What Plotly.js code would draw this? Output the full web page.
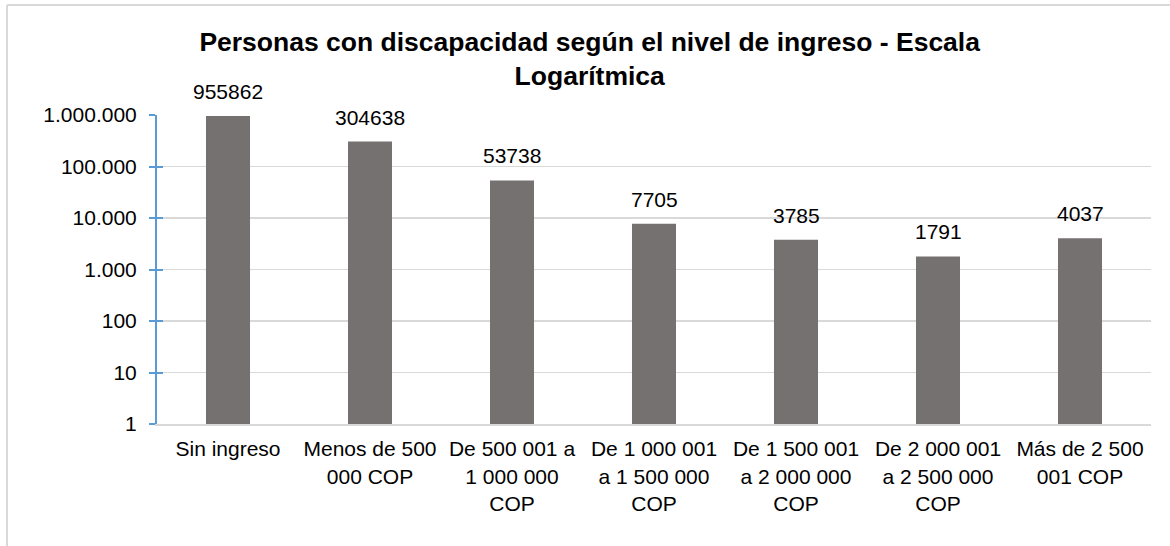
<!DOCTYPE html>
<html>
<head>
<meta charset="utf-8">
<script src="https://cdn.plot.ly/plotly-3.0.1.min.js"></script>
<style>
html,body{margin:0;padding:0;background:#fff;}
#chart{width:1170px;height:546px;}
</style>
</head>
<body>
<div id="chart"></div>
<script>
const categories = ["Sin ingreso","Menos de 500 000 COP","De 500 001 a 1 000 000 COP","De 1 000 001 a 1 500 000 COP","De 1 500 001 a 2 000 000 COP","De 2 000 001 a 2 500 000 COP","Más de 2 500 001 COP"];
const tickLabels = ["Sin ingreso","Menos de 500<br>000 COP","De 500 001 a<br>1 000 000<br>COP","De 1 000 001<br>a 1 500 000<br>COP","De 1 500 001<br>a 2 000 000<br>COP","De 2 000 001<br>a 2 500 000<br>COP","Más de 2 500<br>001 COP"];
const values = [955862, 304638, 53738, 7705, 3785, 1791, 4037];
const yTickVals = [1, 10, 100, 1000, 10000, 100000, 1000000];
const yTickText = ["1","10","100","1.000","10.000","100.000","1.000.000"];
const titleText = "Personas con discapacidad según el nivel de ingreso - Escala<br>Logarítmica";

const font = "Arial, 'Liberation Sans', sans-serif";

const trace = {
  type: "bar",
  x: categories,
  y: values,
  marker: {color: "#767171"},
  width: 0.31,
  hoverinfo: "x+y"
};

const annotations = categories.map((c, i) => ({
  xref: "x", yref: "y",
  x: c, y: Math.log10(values[i]),
  text: String(values[i]),
  showarrow: false,
  xanchor: "center", yanchor: "bottom",
  yshift: 11,
  font: {family: font, size: 21, color: "#000"}
}));

const layout = {
  width: 1170,
  height: 546,
  margin: {l: 157, r: 19, t: 115, b: 122},
  paper_bgcolor: "#fff",
  plot_bgcolor: "#fff",
  showlegend: false,
  title: {
    text: titleText,
    font: {family: font, size: 26.5, color: "#000", weight: "bold"},
    xref: "container", x: 0.504, xanchor: "center",
    yref: "container", y: 1 - 51/546, yanchor: "top"
  },
  xaxis: {
    type: "category",
    tickmode: "array",
    tickvals: categories,
    ticktext: tickLabels,
    tickfont: {family: font, size: 21, color: "#000"},
    showline: true, linecolor: "#D9D9D9", linewidth: 2,
    ticks: "", showgrid: false, zeroline: false,
    ticklabelstandoff: 5
  },
  yaxis: {
    type: "log",
    range: [0, 6],
    tickmode: "array",
    tickvals: yTickVals,
    ticktext: yTickText,
    tickfont: {family: font, size: 21, color: "#000"},
    showline: true, linecolor: "#5B9BD5", linewidth: 2,
    ticks: "outside", ticklen: 6, tickcolor: "#5B9BD5", tickwidth: 2,
    showgrid: true, gridcolor: "#D9D9D9", gridwidth: 1.5,
    zeroline: false,
    ticklabelstandoff: 8
  },
  yaxis2: {
    type: "log",
    range: [0, 6],
    overlaying: "y",
    side: "left",
    tickmode: "array",
    tickvals: yTickVals,
    showticklabels: false,
    ticks: "inside", ticklen: 6, tickcolor: "#5B9BD5", tickwidth: 2,
    showgrid: false, showline: false, zeroline: false
  },
  annotations: annotations,
  shapes: [
    {type: "line", xref: "paper", yref: "paper", x0: (7-157)/994, x1: (7-157)/994, y0: 1 + (115-5)/309, y1: -0.6, line: {color: "#D9D9D9", width: 2}},
    {type: "line", xref: "paper", yref: "paper", x0: (7-157)/994, x1: 1.1, y0: 1 + (115-5)/309, y1: 1 + (115-5)/309, line: {color: "#D9D9D9", width: 2}}
  ]
};

const ghost = {type: "scatter", x: [categories[0]], y: [1], yaxis: "y2", mode: "markers", marker: {opacity: 0}, hoverinfo: "skip", showlegend: false};

Plotly.newPlot("chart", [trace, ghost], layout, {displayModeBar: false, staticPlot: true});
</script>
</body>
</html>
